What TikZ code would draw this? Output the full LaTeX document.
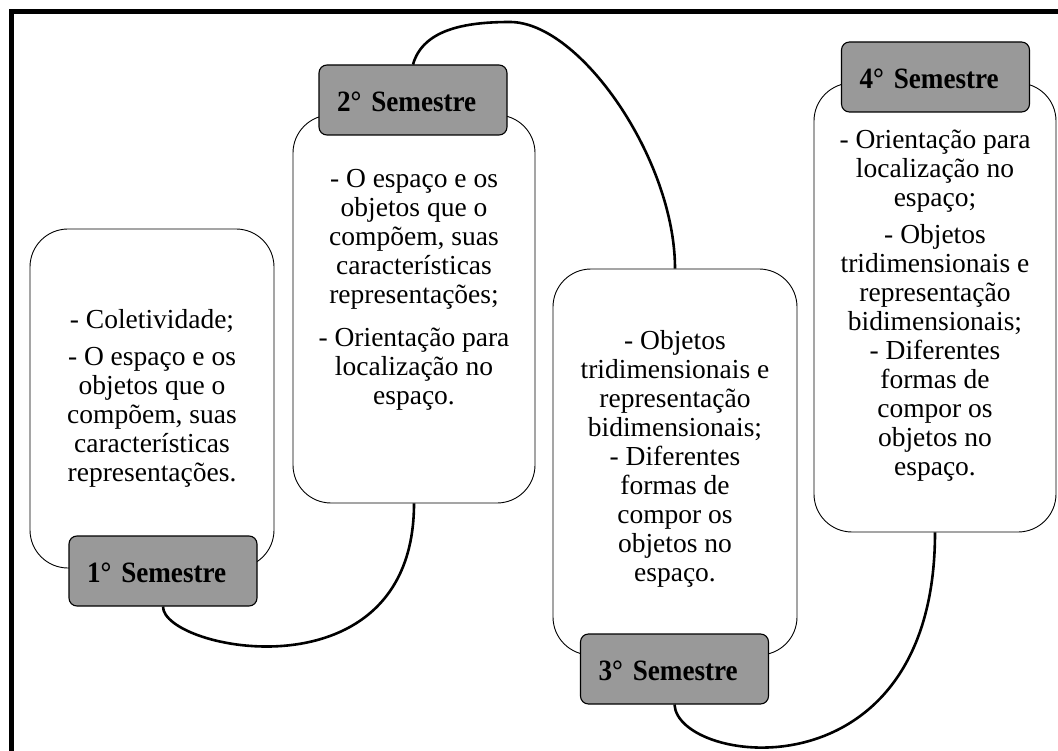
\documentclass[tikz,border=0pt]{standalone}
\usepackage{fontspec}
\setmainfont{Liberation Serif}
\newfontfamily\tabfont[FakeStretch=0.92]{Liberation Serif}
\usetikzlibrary{calc}
\definecolor{tabgray}{RGB}{153,153,153}
\begin{document}
\begin{tikzpicture}[x=1pt,y=-1pt,
  card/.style={draw=black, line width=0.9pt, fill=white, rounded corners=38pt, inner sep=0pt},
  tab/.style={draw=black, line width=1.1pt, fill=tabgray, rounded corners=8pt,
    minimum height=70pt, text width=152pt, inner xsep=18pt, inner ysep=0pt,
    text height=23pt, text depth=0pt, align=left,
    font=\tabfont\fontsize{29.5}{30}\selectfont\bfseries},
  body/.style={inner sep=0pt, align=center, anchor=north,
    font=\fontsize{27.5}{29}\selectfont},
  link/.style={line width=2.6pt}]
\useasboundingbox (0,0) rectangle (1058,751);
\clip (0,0) rectangle (1058,751);

% outer frame (runs off the right and bottom edges)
\draw[line width=5pt] (11,780) -- (11,12) -- (1090,12);

% content cards
\node[card, minimum width=244pt, minimum height=339pt] (b1) at (152,398.5) {};
\node[card, minimum width=242pt, minimum height=388pt] (b2) at (414,309) {};
\node[card, minimum width=244pt, minimum height=386pt] (b3) at (675,462) {};
\node[card, minimum width=242pt, minimum height=449pt] (b4) at (935,307.5) {};

% card texts
\node[body] (t1) at (152,309) {- Coletividade;\\[8pt]
  - O espaço e os\\ objetos que o\\ compõem, suas\\ características\\ representações.};
\node[body] (t2) at (414,169) {- O espaço e os\\ objetos que o\\ compõem, suas\\ características\\ representações;\\[14pt]
  - Orientação para\\ localização no\\ espaço.};
\node[body] (t3) at (675,330) {- Objetos\\ tridimensionais e\\ representação\\ bidimensionais;\\
  - Diferentes\\ formas de\\ compor os\\ objetos no\\ espaço.};
\node[body] (t4) at (935,130) {- Orientação para\\ localização no\\ espaço;\\[8pt]
  - Objetos\\ tridimensionais e\\ representação\\ bidimensionais;\\
  - Diferentes\\ formas de\\ compor os\\ objetos no\\ espaço.};

% semester tabs
\node[tab] (h1) at (163,571) {1° Semestre};
\node[tab] (h2) at (413,100) {2° Semestre};
\node[tab] (h3) at (674.5,669) {3° Semestre};
\node[tab] (h4) at (935.5,77) {4° Semestre};

% connectors between the semesters
\coordinate (arctop) at (510,22);
\draw[link] (h1.south) .. controls ($(h1.south)+(0,44)$) and ($(b2.south)+(0,197)$) .. (b2.south);
\draw[link] (h2.north) .. controls ($(h2.north)+(10,-35)$) and ($(arctop)+(-45,0)$) .. (arctop)
  .. controls ($(arctop)+(70,0)$) and ($(b3.north)+(0,-109)$) .. (b3.north);
\draw[link] (h3.south) .. controls ($(h3.south)+(3,61)$) and ($(b4.south)+(0,268)$) .. (b4.south);
\end{tikzpicture}
\end{document}
